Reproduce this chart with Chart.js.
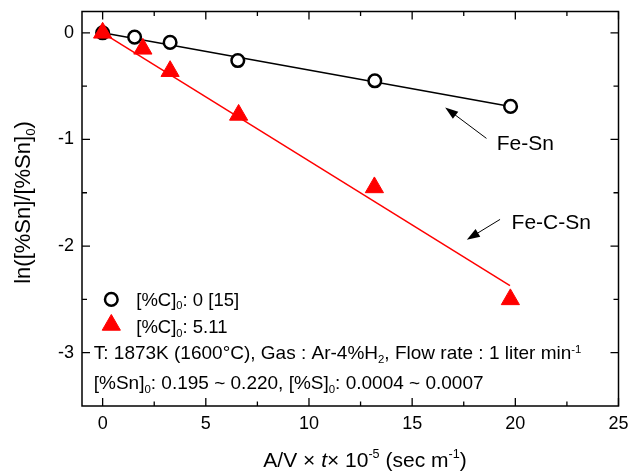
<!DOCTYPE html>
<html>
<head>
<meta charset="utf-8">
<script src="https://cdn.jsdelivr.net/npm/chart.js@4/dist/chart.umd.min.js"></script>
<style>
  html, body { margin: 0; padding: 0; background: #fff; }
</style>
</head>
<body>
<canvas id="chart" width="630" height="474"></canvas>
<script>
// Sn removal: ln([%Sn]/[%Sn]0) against A/V x t
const feSnX = [0, 1.55, 3.27, 6.55, 13.19, 19.77];
const feSnY = [0, -0.04, -0.09, -0.26, -0.45, -0.69];
const feCSnX = [0, 1.95, 3.27, 6.59, 13.17, 19.76];
const feCSnY = [0, -0.15, -0.36, -0.77, -1.45, -2.50];

// end points of the fitted lines
const feSnFitX = [0, 19.77];
const feSnFitY = [0, -0.69];
const feCSnFitX = [0, 19.74];
const feCSnFitY = [0, -2.37];

const xTicks = [0, 5, 10, 15, 20, 25];
const xMinor = [2.5, 7.5, 12.5, 17.5, 22.5];
const yTicks = [0, -1, -2, -3];
const yMinor = [-0.5, -1.5, -2.5];

const FONT = '"Liberation Sans", Arial, Helvetica, sans-serif';
const RED = '#ff0000';

const toPts = (xs, ys) => xs.map((x, i) => ({ x: x, y: ys[i] }));

// text with sub/superscripts and italics, drawn piece by piece
function drawRich(ctx, parts, x, y, size, align, opts) {
  opts = opts || {};
  const subShift = opts.sub != null ? opts.sub : 0.2;
  const supShift = opts.sup != null ? opts.sup : 0.3;
  let total = 0;
  const items = parts.map(p => {
    const t = p[0], m = p[1] || '';
    const s = (m === 'sub' || m === 'sup') ? size * 0.6 : size;
    const font = (m === 'it' ? 'italic ' : '') + s + 'px ' + FONT;
    ctx.font = font;
    const w = ctx.measureText(t).width;
    total += w;
    return { t: t, m: m, font: font, w: w };
  });
  let cx = align === 'center' ? x - total / 2 : x;
  ctx.textAlign = 'left';
  ctx.textBaseline = 'alphabetic';
  items.forEach(it => {
    ctx.font = it.font;
    let dy = 0;
    if (it.m === 'sub') dy = size * subShift;
    if (it.m === 'sup') dy = -size * supShift;
    ctx.fillText(it.t, cx, y + dy);
    cx += it.w;
  });
}

function arrow(ctx, x1, y1, x2, y2) {
  const ang = Math.atan2(y2 - y1, x2 - x1);
  const len = 13, half = 4.5;
  ctx.beginPath();
  ctx.moveTo(x1, y1);
  ctx.lineTo(x2 - Math.cos(ang) * len * 0.8, y2 - Math.sin(ang) * len * 0.8);
  ctx.lineWidth = 1;
  ctx.strokeStyle = '#000';
  ctx.stroke();
  ctx.beginPath();
  ctx.moveTo(x2, y2);
  ctx.lineTo(x2 - Math.cos(ang) * len + Math.sin(ang) * half, y2 - Math.sin(ang) * len - Math.cos(ang) * half);
  ctx.lineTo(x2 - Math.cos(ang) * len - Math.sin(ang) * half, y2 - Math.sin(ang) * len + Math.cos(ang) * half);
  ctx.closePath();
  ctx.fillStyle = '#000';
  ctx.fill();
}

const framePlugin = {
  id: 'frame',
  afterDraw(chart) {
    const ctx = chart.ctx;
    const a = chart.chartArea;
    const xs = chart.scales.x, ys = chart.scales.y;
    const px = v => xs.getPixelForValue(v);
    const py = v => ys.getPixelForValue(v);

    ctx.save();
    // box
    ctx.strokeStyle = '#000';
    ctx.lineWidth = 1.5;
    ctx.strokeRect(a.left, a.top, a.right - a.left, a.bottom - a.top);

    // inward ticks on all four sides
    ctx.lineWidth = 1.3;
    ctx.beginPath();
    const tickX = (v, len) => {
      const x = px(v);
      ctx.moveTo(x, a.bottom); ctx.lineTo(x, a.bottom - len);
      ctx.moveTo(x, a.top); ctx.lineTo(x, a.top + len);
    };
    const tickY = (v, len) => {
      const y = py(v);
      ctx.moveTo(a.left, y); ctx.lineTo(a.left + len, y);
      ctx.moveTo(a.right, y); ctx.lineTo(a.right - len, y);
    };
    xTicks.forEach(v => tickX(v, 8));
    xMinor.forEach(v => tickX(v, 4.5));
    yTicks.forEach(v => tickY(v, 8));
    yMinor.forEach(v => tickY(v, 5));
    ctx.stroke();

    ctx.fillStyle = '#000';

    // axis titles
    drawRich(ctx, [['A/V \u00d7 '], ['t', 'it'], ['\u00d7 10'], ['-5', 'sup'], [' (sec m'], ['-1', 'sup'], [')']],
      365, 466.5, 21, 'center', { sup: 0.42 });
    ctx.save();
    ctx.translate(30, 202.5);
    ctx.rotate(-Math.PI / 2);
    drawRich(ctx, [['ln([%Sn]/[%Sn]'], ['0', 'sub'], [')']], 0, 0, 22, 'center', { sub: 0.22 });
    ctx.restore();

    // curve labels with arrows
    arrow(ctx, px(18.6), py(-0.99), px(16.6), py(-0.70));
    ctx.fillStyle = '#000';
    drawRich(ctx, [['Fe-Sn']], px(19.1), py(-1.10), 21, 'left');
    arrow(ctx, px(19.26), py(-1.75), px(17.65), py(-1.94));
    ctx.fillStyle = '#000';
    drawRich(ctx, [['Fe-C-Sn']], px(19.82), py(-1.84), 21, 'left');

    // legend
    const circle = chart.data.datasets[1];
    const tri = chart.data.datasets[0];
    ctx.fillStyle = circle.backgroundColor;
    ctx.strokeStyle = circle.borderColor;
    ctx.lineWidth = circle.borderWidth;
    Chart.helpers.drawPoint(ctx, { pointStyle: 'circle', radius: circle.pointRadius, borderWidth: circle.borderWidth, rotation: 0 }, px(0.42), py(-2.50));
    ctx.fillStyle = tri.backgroundColor;
    ctx.strokeStyle = tri.borderColor;
    ctx.lineWidth = tri.borderWidth;
    Chart.helpers.drawPoint(ctx, { pointStyle: 'triangle', radius: tri.pointRadius, borderWidth: tri.borderWidth, rotation: 0 }, px(0.42), py(-2.74));

    ctx.fillStyle = '#000';
    drawRich(ctx, [['[%C]'], ['0', 'sub'], [': 0 [15]']], px(1.63), py(-2.56), 18.5, 'left');
    drawRich(ctx, [['[%C]'], ['0', 'sub'], [': 5.11']], px(1.63), py(-2.82), 18.5, 'left');

    // run conditions
    drawRich(ctx, [['T: 1873K (1600\u00b0C), Gas : Ar-4%H'], ['2', 'sub'], [', Flow rate : 1 liter min'], ['-1', 'sup']],
      px(-0.43), py(-3.06), 19, 'left');
    drawRich(ctx, [['[%Sn]'], ['0', 'sub'], [': 0.195 ~ 0.220, [%S]'], ['0', 'sub'], [': 0.0004 ~ 0.0007']],
      px(-0.43), py(-3.34), 19, 'left');
    ctx.restore();
  }
};

const ctx = document.getElementById('chart').getContext('2d');
const chart = new Chart(ctx, {
  type: 'scatter',
  data: {
    datasets: [
      {
        label: '[%C]0: 5.11',
        data: toPts(feCSnX, feCSnY),
        pointStyle: 'triangle',
        pointRadius: 10.5,
        backgroundColor: RED,
        borderColor: RED,
        borderWidth: 1,
        order: 1
      },
      {
        label: '[%C]0: 0 [15]',
        data: toPts(feSnX, feSnY),
        pointStyle: 'circle',
        pointRadius: 6.3,
        backgroundColor: '#ffffff',
        borderColor: '#000000',
        borderWidth: 2.5,
        order: 2
      },
      {
        label: 'Fe-Sn',
        data: toPts(feSnFitX, feSnFitY),
        showLine: true,
        pointRadius: 0,
        borderColor: '#000000',
        borderWidth: 1.5,
        order: 3
      },
      {
        label: 'Fe-C-Sn',
        data: toPts(feCSnFitX, feCSnFitY),
        showLine: true,
        pointRadius: 0,
        borderColor: RED,
        borderWidth: 1.5,
        order: 4
      }
    ]
  },
  options: {
    responsive: false,
    animation: false,
    devicePixelRatio: 1,
    layout: { padding: { top: 10, right: 9, bottom: 0, left: 0 } },
    plugins: {
      legend: { display: false },
      tooltip: { enabled: false }
    },
    scales: {
      x: {
        type: 'linear',
        min: -1,
        max: 25,
        grid: { display: false, drawTicks: false },
        border: { display: false },
        afterBuildTicks: s => { s.ticks = xTicks.map(v => ({ value: v })); },
        afterFit: s => {
          s.height = 68;
          s.paddingLeft = 0;
          s.paddingRight = 0;
        },
        ticks: {
          padding: 7,
          color: '#000',
          font: { family: FONT, size: 18 },
          maxRotation: 0,
          callback: v => String(v)
        }
      },
      y: {
        type: 'linear',
        min: -3.5,
        max: 0.2,
        grid: { display: false, drawTicks: false },
        border: { display: false },
        afterBuildTicks: s => { s.ticks = yTicks.map(v => ({ value: v })); },
        afterFit: s => {
          s.width = 82;
          s.paddingTop = 0;
          s.paddingBottom = 0;
        },
        ticks: {
          padding: 8,
          color: '#000',
          font: { family: FONT, size: 18 },
          callback: v => String(v)
        }
      }
    }
  },
  plugins: [framePlugin]
});
</script>
</body>
</html>
